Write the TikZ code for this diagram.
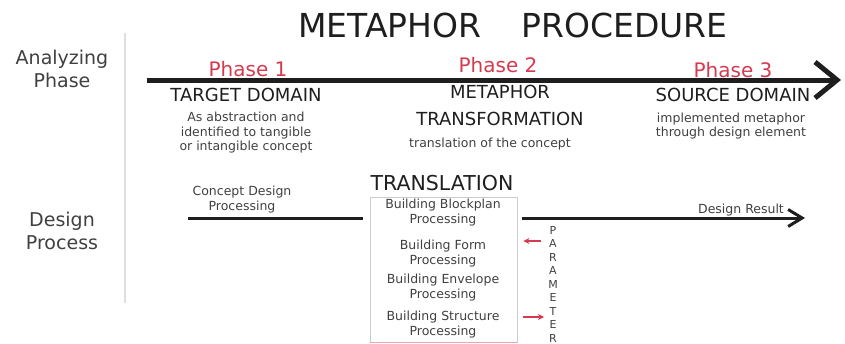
\documentclass[tikz,border=0pt]{standalone}
\usepackage{fontspec}
\setmainfont{DejaVu Sans}
\usetikzlibrary{arrows.meta}
\definecolor{inkcol}{RGB}{30,30,30}
\definecolor{phasecol}{RGB}{214,58,78}
\tikzstyle{headtitle}=[font=\fontsize{33}{36}\selectfont,text=inkcol,inner sep=0]
\tikzstyle{sidelabel}=[font=\fontsize{19}{23}\selectfont,align=center,text=inkcol!85,inner sep=0]
\tikzstyle{phaselabel}=[font=\fontsize{20}{22}\selectfont,text=phasecol,inner sep=0]
\tikzstyle{domainname}=[font=\fontsize{18}{27}\selectfont,align=center,text=inkcol,inner sep=0]
\tikzstyle{notetext}=[font=\fontsize{12.5}{14.5}\selectfont,align=center,text=inkcol!85,inner sep=0]
\tikzstyle{itemtext}=[font=\fontsize{12.5}{15}\selectfont,align=center,text=inkcol!85,inner sep=0]
\tikzstyle{parletter}=[font=\fontsize{11}{12}\selectfont,text=inkcol!85,inner sep=0]
\tikzstyle{timeline}=[line width=5,inkcol,-{Straight Barb[length=22pt,width=36pt]}]
\tikzstyle{flow}=[line width=3,inkcol]
\tikzstyle{parrow}=[line width=1.4,phasecol,-{Stealth[length=6pt,width=6pt]}]

\begin{document}
\begin{tikzpicture}[x=1pt,y=-1pt]
  \useasboundingbox (0,0) rectangle (845,343);

  % TITLE & SIDE LABELS
  \node[headtitle] (title) at (513,25) {METAPHOR\hspace{40pt}PROCEDURE};
  \draw[gray!25,line width=1.2] (125,33) -- (125,303);
  \node[sidelabel] (analyzing) at (62,69) {Analyzing\\Phase};
  \node[sidelabel] (design) at (62,231) {Design\\Process};

  % ANALYZING PHASE
  \coordinate (tl-start) at (147,80);
  \coordinate (tl-end) at (841,80);
  \draw[timeline] (tl-start) -- (tl-end);
  \node[phaselabel] (phase1) at (248,69) {Phase 1};
  \node[phaselabel] (phase2) at (498,65) {Phase 2};
  \node[phaselabel] (phase3) at (733,70) {Phase 3};
  \node[domainname] (target) at (246,95) {TARGET DOMAIN};
  \node[domainname] (transform) at (500,105.5) {METAPHOR\\TRANSFORMATION};
  \node[domainname] (source) at (733,95) {SOURCE DOMAIN};
  \node[notetext] (target-note) at (246,133) {As abstraction and\\identified to tangible\\or intangible concept};
  \node[notetext] (transform-note) at (490,144) {translation of the concept};
  \node[notetext] (source-note) at (731,126) {implemented metaphor\\through design element};

  % DESIGN PROCESS
  \node[notetext] (concept) at (242,199.5) {Concept Design\\Processing};
  \node[font=\fontsize{20.5}{22}\selectfont,text=inkcol,inner sep=0] (translation) at (442,183) {TRANSLATION};
  \node[draw=gray!40,line width=0.8,minimum width=147,minimum height=145,inner sep=0] (box) at (443.5,269.5) {};
  \draw[phasecol!45,line width=1] (box.south west) -- (box.south east);
  \node[itemtext] (blockplan) at (443,212.5) {Building Blockplan\\Processing};
  \node[itemtext] (form) at (443,254) {Building Form\\Processing};
  \node[itemtext] (envelope) at (443,287.5) {Building Envelope\\Processing};
  \node[itemtext] (structure) at (443,325) {Building Structure\\Processing};

  \coordinate (concept-in) at (188,218);
  \draw[flow,shorten >=7pt] (concept-in) -- (concept-in -| box.west);
  \coordinate (result) at (805,218);
  \draw[flow,shorten <=5pt,-{Straight Barb[length=14pt,width=17pt]}] (result -| box.east) -- (result);
  \node[notetext,anchor=south] (result-label) at (741,216) {Design Result};

  % PARAMETER
  \foreach \ch [count=\i] in {P,A,R,A,M,E,T,E,R}
    \node[parletter] (par\i) at (553,216.5+13.5*\i) {\ch};
  \coordinate (from-param) at (541,241);
  \draw[parrow,shorten >=6pt] (from-param) -- (from-param -| box.east);
  \coordinate (to-param) at (544,317);
  \draw[parrow,shorten <=6pt] (to-param -| box.east) -- (to-param);
\end{tikzpicture}
\end{document}
